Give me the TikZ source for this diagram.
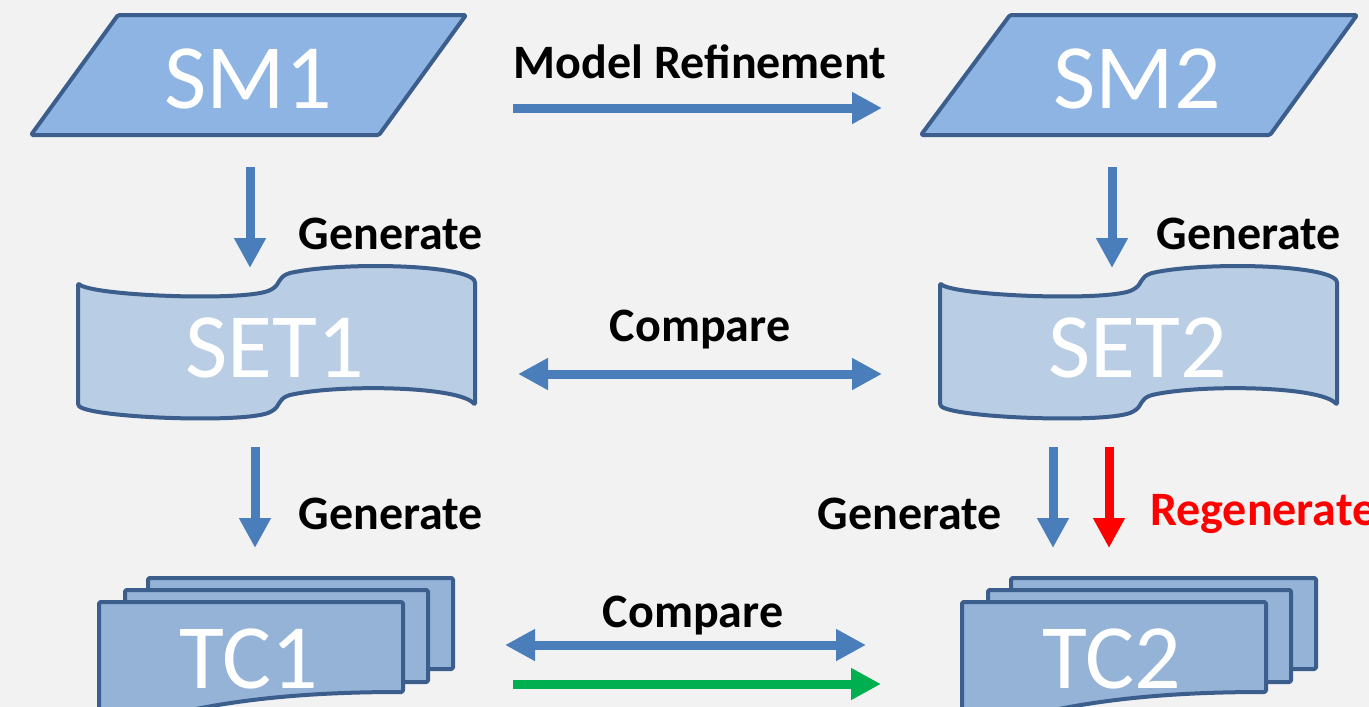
\documentclass[tikz,border=0pt]{standalone}
\usepackage{fontspec}
\setmainfont{Carlito}
\usetikzlibrary{arrows.meta}

\definecolor{bgcol}{HTML}{F2F2F2}
\definecolor{edgecol}{HTML}{3B5E8C}
\definecolor{smfill}{HTML}{8EB4E3}
\definecolor{setfill}{HTML}{B9CDE5}
\definecolor{tcfill}{HTML}{95B3D7}
\definecolor{arrblue}{HTML}{4A7EBB}
\definecolor{arrred}{HTML}{FF0000}
\definecolor{arrgreen}{HTML}{00B050}

\tikzset{
  shapebox/.style={draw=edgecol, line width=4pt, line join=round, rounded corners=1.5pt},
  bigtext/.style={text=white, anchor=base, inner sep=0pt, font=\fontsize{92}{100}\selectfont},
  lbl/.style={anchor=base, inner sep=0pt, font=\fontsize{48}{54}\selectfont\bfseries},
  flow/.style={line width=9pt, -{Triangle[width=30pt,length=30pt]}},
  flowboth/.style={line width=9pt, {Triangle[width=30pt,length=30pt]}-{Triangle[width=30pt,length=30pt]}},
}

% punched-tape outline with its left end at x = 0
\newcommand\tapeoutline{%
  (78,283) .. controls (90,296) and (250,302) .. (272,289)
  .. controls (280,284) and (278,277) .. (290,273)
  .. controls (340,262) and (460,264) .. (475,281)
  -- (475,405)
  .. controls (460,386) and (340,384) .. (290,395)
  .. controls (278,399) and (280,406) .. (272,411)
  .. controls (250,424) and (90,418) .. (78,405) -- cycle}

% stacked documents
\newcommand\docstack{%
  \path[shapebox, fill=tcfill] (148,578) -- (453,578) -- (453,669) -- (148,669) -- cycle;
  \path[shapebox, fill=tcfill] (125,590) -- (428,590) -- (428,682) -- (125,682) -- cycle;
  \path[shapebox, fill=tcfill] (99,602) -- (403,602) -- (403,692)
     .. controls (300,692) and (200,700) .. (99,735) -- cycle;}

\begin{document}
\begin{tikzpicture}[x=1pt, y=-1pt]
\useasboundingbox (0,0) rectangle (1369,707);
\fill[bgcol] (0,0) rectangle (1369,707);
\clip (0,0) rectangle (1369,707);

% state machines
\path[shapebox, fill=smfill] (118,15) -- (466,15) -- (379,135) -- (31,135) -- cycle;
\node[bigtext] (sm1) at (248,108) {SM1};
\path[shapebox, fill=smfill] (1010,15) -- (1357,15) -- (1270,135) -- (921,135) -- cycle;
\node[bigtext] (sm2) at (1137,108) {SM2};

% test sets
\path[shapebox, fill=setfill] \tapeoutline;
\node[bigtext] (set1) at (275,377) {SET1};
\begin{scope}[xshift=862pt]
  \path[shapebox, fill=setfill] \tapeoutline;
\end{scope}
\node[bigtext] (set2) at (1138,377) {SET2};

% test cases
\docstack
\node[bigtext] (tc1) at (249,688) {TC1};
\begin{scope}[xshift=863pt]
  \docstack
\end{scope}
\node[bigtext] (tc2) at (1112,688) {TC2};

% arrow end points
\coordinate (mrA) at (513,108);  \coordinate (mrB) at (882,108);
\coordinate (g1A) at (250,167);  \coordinate (g1B) at (250,268);
\coordinate (g2A) at (1112,167); \coordinate (g2B) at (1112,268);
\coordinate (c1A) at (518,374);  \coordinate (c1B) at (882,374);
\coordinate (g3A) at (255,447);  \coordinate (g3B) at (255,548);
\coordinate (g4A) at (1053,447); \coordinate (g4B) at (1053,548);
\coordinate (rgA) at (1109,447); \coordinate (rgB) at (1109,548);
\coordinate (c2A) at (505,645);  \coordinate (c2B) at (866,645);
\coordinate (gnA) at (513,684);  \coordinate (gnB) at (881,684);

\draw[flow, arrblue] (mrA) -- (mrB);
\draw[flow, arrblue] (g1A) -- (g1B);
\draw[flow, arrblue] (g2A) -- (g2B);
\draw[flowboth, arrblue] (c1A) -- (c1B);
\draw[flow, arrblue] (g3A) -- (g3B);
\draw[flow, arrblue] (g4A) -- (g4B);
\draw[flow, arrred] (rgA) -- (rgB);
\draw[flowboth, arrblue] (c2A) -- (c2B);
\draw[flow, arrgreen] (gnA) -- (gnB);

% labels
\node[lbl] (lmr) at (700,78) {Model Refinement};
\node[lbl] (lg1) at (391,249) {Generate};
\node[lbl] (lg2) at (1249,249) {Generate};
\node[lbl] (lc1) at (700,341) {Compare};
\node[lbl] (lg3) at (391,529) {Generate};
\node[lbl] (lg4) at (910,529) {Generate};
\node[lbl, anchor=base west, text=arrred] (lrg) at (1150,525) {Regenerate};
\node[lbl] (lc2) at (693,627) {Compare};
\end{tikzpicture}
\end{document}
